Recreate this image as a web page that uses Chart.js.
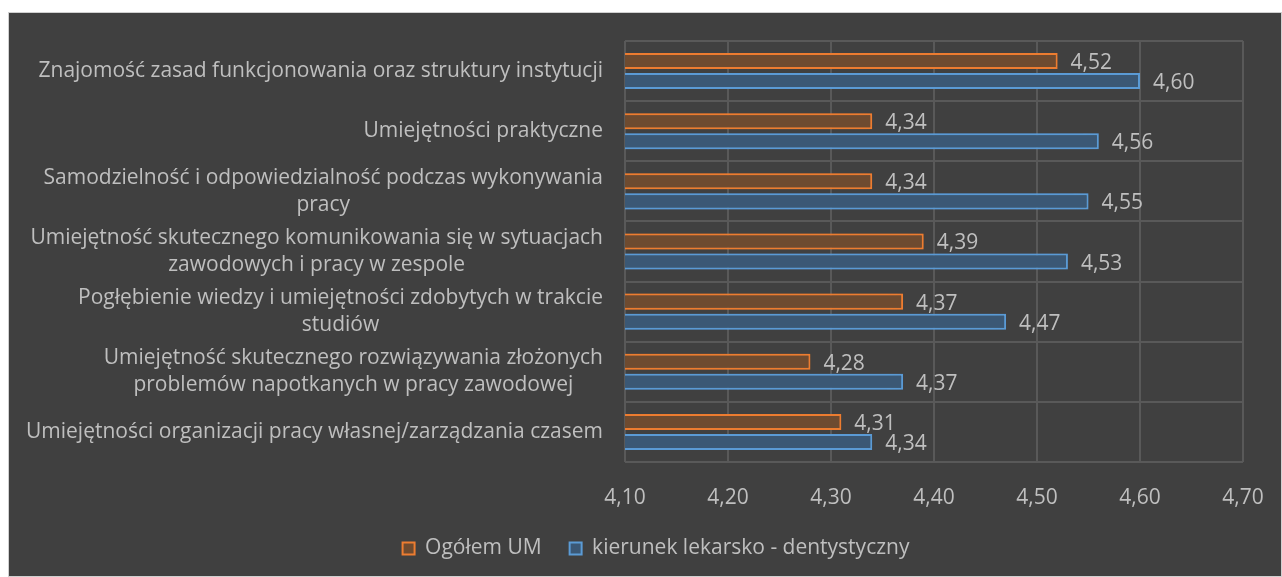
<!DOCTYPE html>
<html>
<head>
<meta charset="utf-8">
<script src="https://cdn.jsdelivr.net/npm/chart.js@4"></script>
<style>
  html, body { margin: 0; padding: 0; background: #ffffff; }
  #wrap {
    position: absolute; left: 8px; top: 12px;
    width: 1274px; height: 565px;
    background: #404040;
    box-shadow: inset 0 0 0 1px #d0d0d0;
  }
</style>
</head>
<body>
<div id="wrap"><canvas id="chart"></canvas></div>
<script>
const categories = [
    'Znajomość zasad funkcjonowania oraz struktury instytucji',
    'Umiejętności praktyczne',
    ['Samodzielność i odpowiedzialność podczas wykonywania', 'pracy'],
    ['Umiejętność skutecznego komunikowania się w sytuacjach', 'zawodowych i pracy w zespole'],
    ['Pogłębienie wiedzy i umiejętności zdobytych w trakcie', 'studiów'],
    ['Umiejętność skutecznego rozwiązywania złożonych', 'problemów napotkanych w pracy zawodowej'],
    'Umiejętności organizacji pracy własnej/zarządzania czasem'
];
const ogolemUM = [4.52, 4.34, 4.34, 4.39, 4.37, 4.28, 4.31];
const lekarskoDent = [4.60, 4.56, 4.55, 4.53, 4.47, 4.37, 4.34];
const seriesNames = ['Ogółem UM', 'kierunek lekarsko - dentystyczny'];

const textColor = '#bfbfbf';
const gridColor = '#595959';
const fontFamily = '"Open Sans", sans-serif';
const fontSize = 21;

const fmt = v => v.toFixed(2).replace('.', ',');

// glow around the bars, like the Office "glow" effect
const glowPlugin = {
    id: 'glow',
    beforeDatasetDraw(chart, args) {
        const ds = chart.data.datasets[args.index];
        chart.ctx.save();
        chart.ctx.shadowColor = ds.glowColor;
        chart.ctx.shadowBlur = 12;
    },
    afterDatasetDraw(chart) {
        chart.ctx.restore();
    }
};

// value labels at the end of each bar
const valueLabels = {
    id: 'valueLabels',
    afterDatasetsDraw(chart) {
        const ctx = chart.ctx;
        ctx.save();
        ctx.fillStyle = textColor;
        ctx.font = fontSize + 'px ' + fontFamily;
        ctx.textBaseline = 'middle';
        ctx.textAlign = 'left';
        chart.data.datasets.forEach((ds, i) => {
            chart.getDatasetMeta(i).data.forEach((bar, j) => {
                ctx.fillText(fmt(ds.data[j]), bar.x + 13, bar.y + 2);
            });
        });
        ctx.restore();
    }
};

// category labels: block right-aligned to the plot, lines centred inside the block
const categoryLabels = {
    id: 'categoryLabels',
    afterDraw(chart) {
        const ctx = chart.ctx;
        const yScale = chart.scales.y;
        const right = chart.chartArea.left - 22;
        const lineH = 27;
        ctx.save();
        ctx.fillStyle = textColor;
        ctx.font = fontSize + 'px ' + fontFamily;
        ctx.textBaseline = 'middle';
        ctx.textAlign = 'center';
        chart.data.labels.forEach((lab, i) => {
            const lines = Array.isArray(lab) ? lab : [lab];
            const w = Math.max(...lines.map(l => ctx.measureText(l).width));
            const cx = right - w / 2;
            const y0 = yScale.getPixelForTick(i) - (lines.length - 1) * lineH / 2;
            lines.forEach((l, k) => ctx.fillText(l, cx, y0 + k * lineH));
        });
        ctx.restore();
    }
};

new Chart(document.getElementById('chart'), {
    type: 'bar',
    data: {
        labels: categories,
        datasets: [{
            label: seriesNames[0],
            data: ogolemUM,
            backgroundColor: '#6e4b30',
            borderColor: '#ed7d31',
            glowColor: 'rgba(237, 125, 49, 0.6)',
            borderWidth: 2,
            borderSkipped: false
        }, {
            label: seriesNames[1],
            data: lekarskoDent,
            backgroundColor: '#3b5875',
            borderColor: '#5b9bd5',
            glowColor: 'rgba(91, 155, 213, 0.6)',
            borderWidth: 2,
            borderSkipped: false
        }]
    },
    options: {
        indexAxis: 'y',
        responsive: true,
        maintainAspectRatio: false,
        animation: false,
        categoryPercentage: 0.667,
        barPercentage: 0.8,
        layout: { padding: { left: 61, right: 39, top: 29, bottom: 8 } },
        plugins: {
            legend: {
                position: 'bottom',
                labels: {
                    color: textColor,
                    font: { family: fontFamily, size: fontSize },
                    boxWidth: 12,
                    boxHeight: 12,
                    padding: 28
                }
            },
            tooltip: { enabled: false }
        },
        scales: {
            x: {
                min: 4.1,
                max: 4.7,
                ticks: {
                    stepSize: 0.1,
                    color: textColor,
                    font: { family: fontFamily, size: fontSize },
                    padding: 23,
                    callback: v => fmt(v)
                },
                grid: { color: gridColor, lineWidth: 2, drawTicks: false },
                border: { display: false },
                afterFit(scale) {
                    scale.height = 48;
                    scale.paddingLeft = 0;
                    scale.paddingRight = 0;
                }
            },
            y: {
                ticks: { display: false },
                grid: { color: gridColor, lineWidth: 2, drawTicks: false },
                border: { display: false },
                afterFit(scale) { scale.width = 556; }
            }
        }
    },
    plugins: [glowPlugin, valueLabels, categoryLabels]
});
</script>
</body>
</html>
